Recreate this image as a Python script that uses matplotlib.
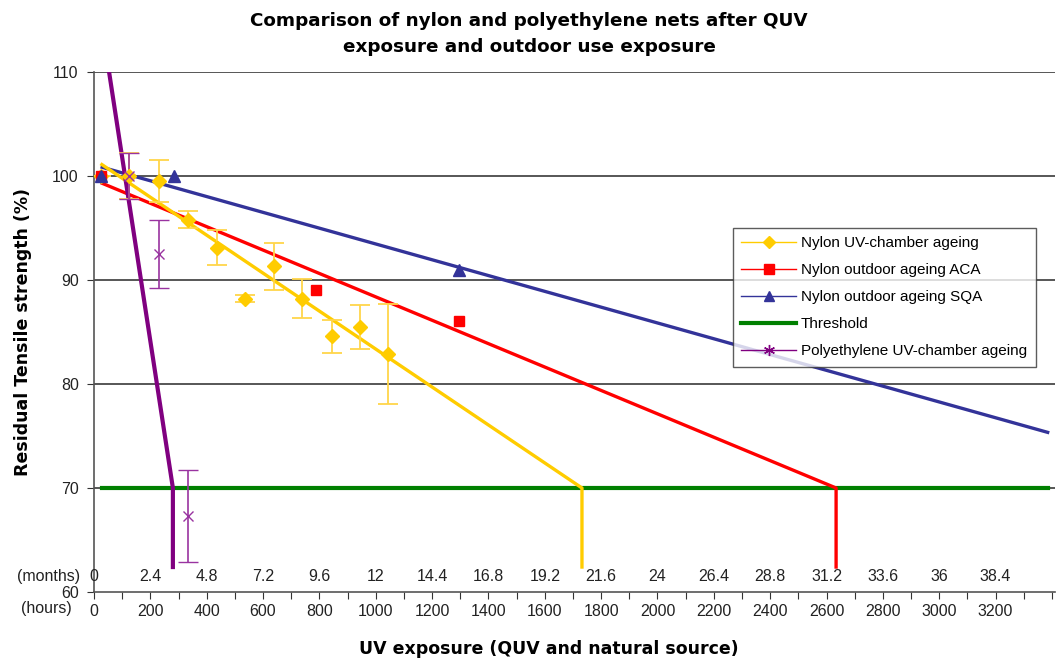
import numpy as np
import matplotlib
matplotlib.use('Agg')
import matplotlib.pyplot as plt
import matplotlib.transforms as mtransforms
from matplotlib.lines import Line2D

# measured data (hours vs residual tensile strength %)
uv_hours = [24, 124, 231, 334, 438, 536, 640, 740, 845, 943, 1043]
uv_strength = [100, 100, 99.5, 95.8, 93.1, 88.2, 91.3, 88.2, 84.6, 85.5, 82.9]
uv_err = [0, 2.2, 2.0, 0.8, 1.7, 0.35, 2.3, 1.9, 1.6, 2.1, 4.8]

aca_hours = [24, 789, 1297]
aca_strength = [100, 89.0, 86.1]

sqa_hours = [24, 285, 1297]
sqa_strength = [100, 100, 91.0]

pe_hours = [124, 232, 334]
pe_strength = [100, 92.5, 67.3]
pe_err = [2.2, 3.3, 4.4]

# trend lines
uv_trend_x = [28, 1732, 1732]
uv_trend_y = [101.1, 70, 62.4]
aca_trend_x = [29, 2634, 2634]
aca_trend_y = [99.3, 70, 62.4]
sqa_trend_x = [29, 3385]
sqa_trend_y = [100.84, 75.35]
pe_trend_x = [45, 280, 280]
pe_trend_y = [111.5, 70, 62.4]
threshold_x = [28, 3385]
threshold_y = [70, 70]

hour_ticks = np.arange(0, 3201, 200)
month_labels = ['0', '2.4', '4.8', '7.2', '9.6', '12', '14.4', '16.8', '19.2',
                '21.6', '24', '26.4', '28.8', '31.2', '33.6', '36', '38.4']

GOLD = '#FFCC00'
GOLD_ERR = '#FFD54A'
RED = '#FF0000'
BLUE = '#333399'
GREEN = '#008000'
PURPLE = '#800080'
PURPLE_ERR = '#9933A0'

plt.rcParams['font.family'] = ['Liberation Sans', 'DejaVu Sans']

fig = plt.figure(figsize=(10.58, 6.61), dpi=100)
ax = fig.add_axes([94/1058, 1 - 592/661, 961/1058, 520/661])

ax.set_xlim(0, 3411)
ax.set_ylim(60, 110)

# grid
for g in [70, 80, 90, 100, 110]:
    ax.axhline(g, color='#3a3a3a', lw=1.2, zorder=1)

# trend lines
ax.plot(threshold_x, threshold_y, color=GREEN, lw=3, zorder=2)
ax.plot(sqa_trend_x, sqa_trend_y, color=BLUE, lw=2.4, zorder=3)
ax.plot(aca_trend_x, aca_trend_y, color=RED, lw=2.4, zorder=3)
ax.plot(uv_trend_x, uv_trend_y, color=GOLD, lw=2.4, zorder=3)
ax.plot(pe_trend_x, pe_trend_y, color=PURPLE, lw=3, zorder=3)

# error bars and markers
ax.errorbar(uv_hours, uv_strength, yerr=uv_err, fmt='D', color=GOLD, ecolor=GOLD_ERR,
            ms=7, elinewidth=1.3, capsize=7, capthick=1.3, zorder=4)
ax.errorbar(pe_hours, pe_strength, yerr=pe_err, fmt='x', color=PURPLE_ERR, ecolor=PURPLE_ERR,
            ms=7, mew=1, elinewidth=1.2, capsize=7, capthick=1.2, zorder=4)
ax.plot(aca_hours, aca_strength, 's', color=RED, ms=7.5, zorder=5)
ax.plot(sqa_hours, sqa_strength, '^', color=BLUE, ms=8, zorder=5)

# axes styling
for s in ['top', 'right']:
    ax.spines[s].set_visible(False)
ax.spines['left'].set_color('#555555')
ax.spines['bottom'].set_color('#555555')
ax.spines['left'].set_linewidth(1.2)
ax.spines['bottom'].set_linewidth(1.2)

ax.set_yticks([60, 70, 80, 90, 100, 110])
ax.set_xticks(np.arange(0, 3401, 100))
ax.set_xticklabels([str(h) if h % 200 == 0 and h <= 3200 else '' for h in np.arange(0, 3401, 100)])
ax.tick_params(axis='both', direction='out', length=5, color='#333333', labelsize=11.5,
               labelcolor='#222222')
ax.tick_params(axis='x', pad=4)
ax.tick_params(axis='y', pad=6)

# months row
for h, m in zip(hour_ticks, month_labels):
    ax.text(h, 61.45, m, ha='center', va='center', fontsize=11.5, color='#222222')
ax.text(-0.014, 61.45, '(months)', transform=mtransforms.blended_transform_factory(ax.transAxes, ax.transData),
        ha='right', va='center', fontsize=11.5, color='#222222')
ax.text(-0.023, -0.031, '(hours)', transform=ax.transAxes, ha='right', va='center',
        fontsize=11.5, color='#222222')

ax.set_ylabel('Residual Tensile strength (%)', fontsize=12.5, fontweight='bold',
              family='DejaVu Sans')
ax.yaxis.set_label_coords(-0.064, 0.5)
ax.set_xlabel('UV exposure (QUV and natural source)', fontsize=12.5, fontweight='bold',
              family='DejaVu Sans')
ax.xaxis.set_label_coords(0.473, -0.093)

fig.suptitle('Comparison of nylon and polyethylene nets after QUV\nexposure and outdoor use exposure',
             fontsize=13.2, fontweight='bold', family='DejaVu Sans', x=0.5, y=0.982,
             linespacing=1.55)

# legend
handles = [
    Line2D([], [], color=GOLD, lw=1, marker='D', ms=6),
    Line2D([], [], color=RED, lw=1, marker='s', ms=7),
    Line2D([], [], color=BLUE, lw=1, marker='^', ms=7),
    Line2D([], [], color=GREEN, lw=3),
    Line2D([], [], color=PURPLE, lw=1, marker=(6, 2, 0), ms=8),
]
labels = ['Nylon UV-chamber ageing', 'Nylon outdoor ageing ACA', 'Nylon outdoor ageing SQA',
          'Threshold', 'Polyethylene UV-chamber ageing']
leg = ax.legend(handles, labels, loc='upper left', bbox_to_anchor=(0.665, 0.70),
                fontsize=11, frameon=True, fancybox=False, edgecolor='#333333',
                handlelength=3.6, labelspacing=0.85, borderpad=0.55, handletextpad=0.3,
                borderaxespad=0)
leg.get_frame().set_linewidth(1)
leg.set_zorder(10)

fig.savefig('out.png', dpi=100)
